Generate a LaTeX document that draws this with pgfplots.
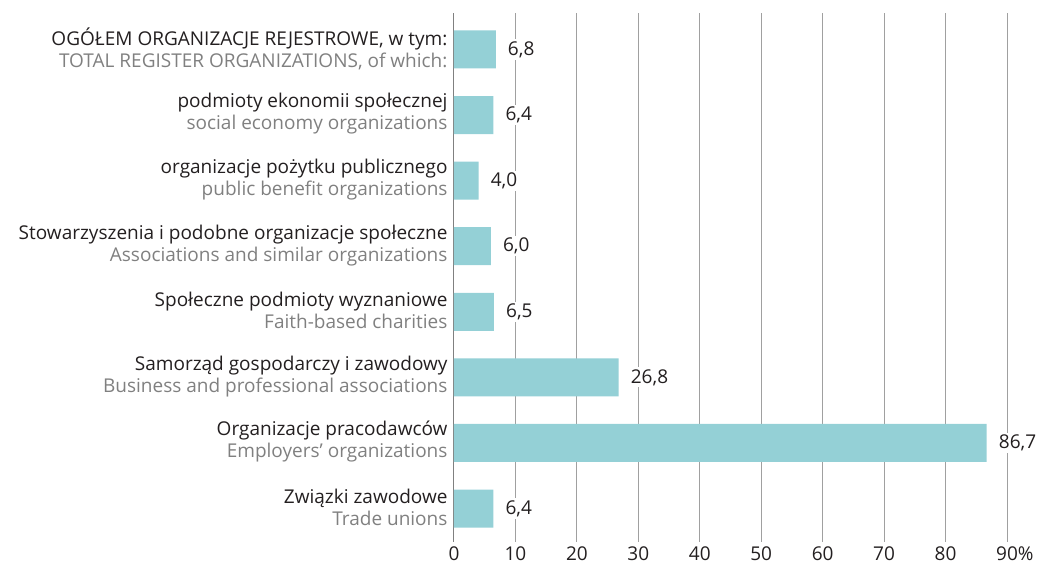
\documentclass[border=0pt]{standalone}
\usepackage{fontspec}
\setmainfont{Open Sans}
\usepackage{pgfplots}
\pgfplotsset{compat=1.18}
\definecolor{barc}{RGB}{148,208,214}
\definecolor{txt}{RGB}{35,31,32}
\definecolor{sub}{RGB}{128,128,128}
\definecolor{gridc}{RGB}{160,160,160}
\begin{document}
\begin{tikzpicture}
\begin{axis}[
  scale only axis,
  width=553pt, height=529pt,
  xbar, bar width=38pt,
  xmin=0, xmax=90,
  ymin=-0.556, ymax=7.51,
  y dir=reverse,
  axis line style={draw=none},
  xtick={0,10,...,90},
  xticklabels={0,10,20,30,40,50,60,70,80,90\rlap{\%}},
  ytick={0,...,7},
  yticklabels={
    {\textcolor{txt}{OGÓŁEM ORGANIZACJE REJESTROWE, w tym:}\\\textcolor{sub}{TOTAL REGISTER ORGANIZATIONS, of which:}},
    {\textcolor{txt}{podmioty ekonomii społecznej}\\\textcolor{sub}{social economy organizations}},
    {\textcolor{txt}{organizacje pożytku publicznego}\\\textcolor{sub}{public benefit organizations}},
    {\textcolor{txt}{Stowarzyszenia i podobne organizacje społeczne}\\\textcolor{sub}{Associations and similar organizations}},
    {\textcolor{txt}{Społeczne podmioty wyznaniowe}\\\textcolor{sub}{Faith-based charities}},
    {\textcolor{txt}{Samorząd gospodarczy i zawodowy}\\\textcolor{sub}{Business and professional associations}},
    {\textcolor{txt}{Organizacje pracodawców}\\\textcolor{sub}{Employers' organizations}},
    {\textcolor{txt}{Związki zawodowe}\\\textcolor{sub}{Trade unions}}
  },
  yticklabel style={align=right, font=\fontsize{19}{22}\selectfont, xshift=-3pt, yshift=1pt},
  xticklabel style={font=\fontsize{19}{22}\selectfont, text=txt, yshift=-1pt},
  /pgf/number format/assume math mode=true,
  major tick length=0pt,
  xmajorgrids,
  grid style={gridc, line width=1pt},
  extra x ticks={0},
  extra x tick labels={},
  extra x tick style={grid style={gray!120!black, line width=1pt, draw=gray}},
  nodes near coords,
  nodes near coords align={horizontal},
  every node near coord/.append style={font=\fontsize{19}{22}\selectfont, text=txt, fill=white, inner sep=2pt, xshift=10pt,
    /pgf/number format/.cd, fixed, fixed zerofill, precision=1, use comma, assume math mode=true},
  clip=false,
]
\addplot[fill=barc, draw=none] coordinates {
 (6.8,0) (6.4,1) (4.0,2) (6.0,3) (6.5,4) (26.8,5) (86.7,6) (6.4,7)
};
\end{axis}
\pgfresetboundingbox
\path ([shift={(-454pt,-28pt)}]current axis.south west) rectangle ([shift={(31pt,13pt)}]current axis.north east);
\end{tikzpicture}
\end{document}
